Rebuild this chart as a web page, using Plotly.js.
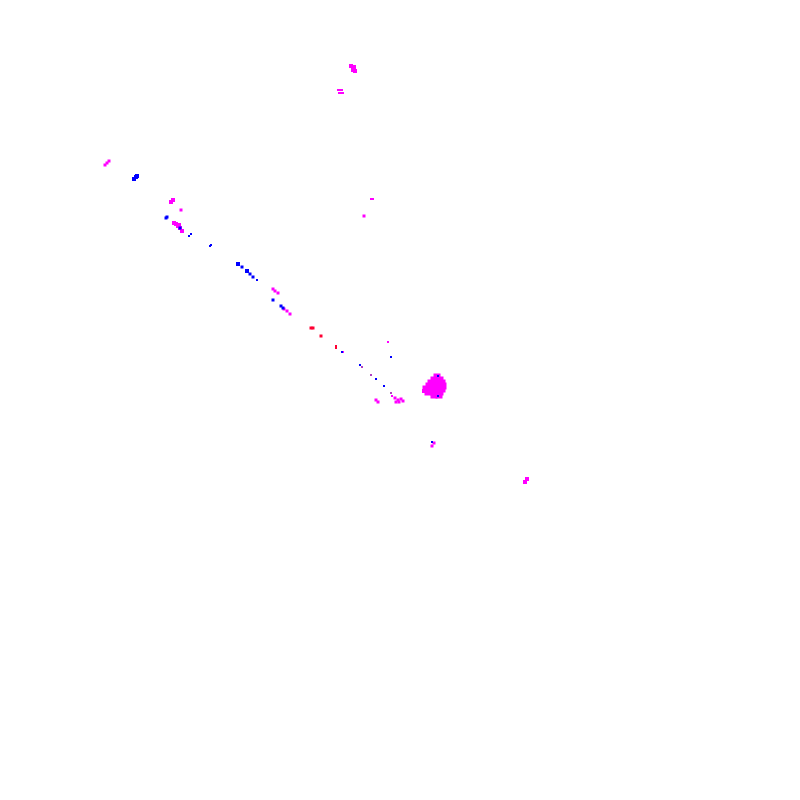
<!DOCTYPE html>
<html>
<head>
<meta charset="utf-8">
<script src="https://cdn.plot.ly/plotly-3.0.1.min.js"></script>
<style>html,body{margin:0;padding:0;background:#fff;}#chart{width:800px;height:800px;}</style>
</head>
<body>
<div id="chart"></div>
<script>
// Magenta points
var magX = [351,354,353,355, 338,340,342,339,341,343, 105,107,109, 171,173, 181, 174,176, 178,180,182,179,
            273,275,278, 284,287,290, 388, 376,378, 395,398,401,403,399,396,392,
            437,434,440,431,437,442,429,434,440,443,426,431,437,442,428,434,440,434,439,424,
            434,432, 525,527, 371,373, 364, 343];
var magY = [66,67,70,71, 90,90,90,93,93,93, 165,163,161, 202,200, 210, 223,224, 226,228,231,225,
            289,291,293, 309,311,314, 342, 400,402, 398,400,399,401,402,402,396,
            377,380,380,383,383,383,386,386,386,386,389,389,389,389,392,392,392,395,395,391,
            443,446, 482,479, 199,199, 216, 352];
var magS = [4,4,4,4, 2,2,2,2,2,2, 3,3,3, 4,4, 3, 4,4, 4,4,4,4,
            3,3,3, 3,3,3, 2, 3,3, 3,3,3,3,3,3,2,
            7,7,7,7,7,7,7,7,7,7,7,7,7,7,7,7,7,7,7,4,
            3,3, 4,4, 2,2, 3, 2];
// Blue points
var bluX = [134,136,137, 166,167, 180, 189,191, 210,211, 238,242,247,250,253,257, 273, 281,283, 342, 391,360,376,384, 438,438, 432];
var bluY = [179,177,176, 218,217, 228, 236,234, 246,245, 264,267,271,274,277,280, 300, 306,308, 352, 357,365,379,386, 376,396, 442];
var bluS = [4,4,4, 3,3, 3, 2,2, 2,2, 4,3,4,3,3,2, 3, 3,3, 2, 2,2,2,2, 2,2, 2];
// Red points
var redX = [311,313, 321, 336,336];
var redY = [328,328, 336, 346,348];
var redS = [3,3, 3, 2,2];
// Purple points
var purX = [362, 371, 391];
var purY = [367, 375, 393];
var purS = [2, 2, 2];

function tr(x, y, s, c) {
  return {type:'scatter', mode:'markers', x:x, y:y, hoverinfo:'skip',
          marker:{symbol:'square', size:s, color:c, opacity:1, line:{width:0}}, showlegend:false};
}
var data = [
  tr(magX, magY, magS, '#ff00ff'),
  tr(bluX, bluY, bluS, '#0000ff'),
  tr(redX, redY, redS, '#ff0033'),
  tr(purX, purY, purS, '#b040c0')
];
var layout = {
  width:800, height:800, margin:{l:0,r:0,t:0,b:0},
  paper_bgcolor:'#ffffff', plot_bgcolor:'#ffffff',
  xaxis:{range:[0,800], visible:false, showgrid:false, zeroline:false},
  yaxis:{range:[800,0], visible:false, showgrid:false, zeroline:false},
  showlegend:false
};
Plotly.newPlot('chart', data, layout, {staticPlot:true});
</script>
</body>
</html>
